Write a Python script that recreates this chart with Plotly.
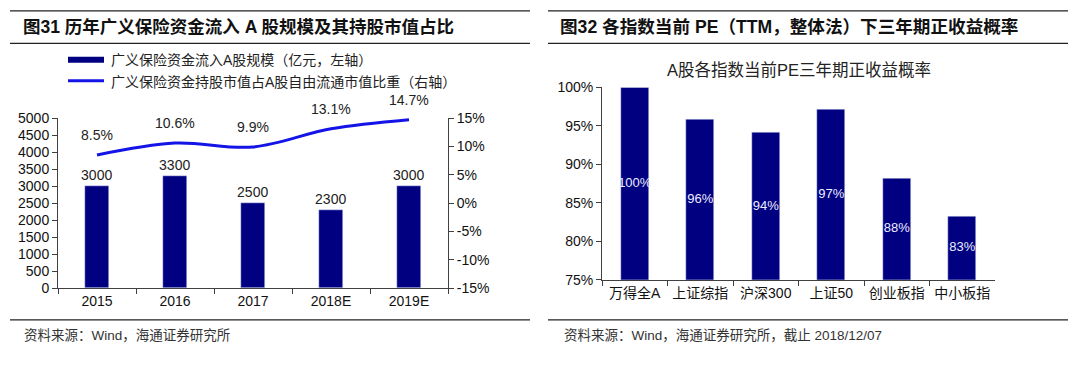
import plotly.graph_objects as go

# ---------------- data ----------------
years = ["2015", "2016", "2017", "2018E", "2019E"]
inflow = [3000, 3300, 2500, 2300, 3000]
share_pct = [8.5, 10.6, 9.9, 13.1, 14.7]
inflow_labels = ["3000", "3300", "2500", "2300", "3000"]
share_labels = ["8.5%", "10.6%", "9.9%", "13.1%", "14.7%"]
left_ticks = list(range(0, 5001, 500))
right_ticks = [-15, -10, -5, 0, 5, 10, 15]
right_ticklabels = ["-15%", "-10%", "-5%", "0%", "5%", "10%", "15%"]

indices = ["万得全A", "上证综指", "沪深300", "上证50", "创业板指", "中小板指"]
prob = [100.0, 95.8, 94.1, 97.1, 88.2, 83.2]
prob_labels = ["100%", "96%", "94%", "97%", "88%", "83%"]
prob_ticks = [75, 80, 85, 90, 95, 100]
prob_ticklabels = ["75%", "80%", "85%", "90%", "95%", "100%"]

title_left = "图31 历年广义保险资金流入 A 股规模及其持股市值占比"
title_right = "图32 各指数当前 PE（TTM，整体法）下三年期正收益概率"
chart_title_right = "A股各指数当前PE三年期正收益概率"
legend_bar = "广义保险资金流入A股规模（亿元，左轴）"
legend_line = "广义保险资金持股市值占A股自由流通市值比重（右轴）"
source_left = "资料来源：Wind，海通证券研究所"
source_right = "资料来源：Wind，海通证券研究所，截止 2018/12/07"

W, H = 1080, 370
FONT = "Liberation Sans, Arial, Noto Sans CJK SC, sans-serif"
NAVY = "#000080"
BLUE = "#1414E6"
AXIS = "#404040"


def px(x):
    return x / W


def py(y):
    return 1 - y / H


fig = go.Figure()

# left chart
fig.add_trace(go.Bar(
    x=years, y=inflow, marker_color=NAVY, width=0.3,
    text=inflow_labels, textposition="outside", cliponaxis=False,
    constraintext="none",
    textfont=dict(size=14, color="#222"),
    xaxis="x", yaxis="y", showlegend=False))
fig.add_trace(go.Scatter(
    x=years, y=share_pct, mode="lines",
    line=dict(color=BLUE, width=3, shape="spline", smoothing=1.0),
    xaxis="x", yaxis="y2", showlegend=False))

# right chart
fig.add_trace(go.Bar(
    x=indices, y=prob, marker_color=NAVY, width=0.42,
    xaxis="x3", yaxis="y3", showlegend=False))
fig.add_trace(go.Scatter(
    x=indices, y=[(v + prob_ticks[0]) / 2 for v in prob], mode="text",
    text=prob_labels, textfont=dict(size=13, color="#EDEDFF"),
    xaxis="x3", yaxis="y3", showlegend=False))

axis_common = dict(showgrid=False, zeroline=False, showline=True,
                   linecolor=AXIS, linewidth=1, ticks="outside",
                   ticklen=5, tickcolor=AXIS, tickfont=dict(size=14, color="#111", family=FONT))

fig.update_layout(
    width=W, height=H,
    margin=dict(l=0, r=0, t=0, b=0),
    paper_bgcolor="white", plot_bgcolor="white",
    font=dict(family=FONT, color="#111"),
    bargap=0,
    xaxis=dict(domain=[px(58), px(448)], anchor="y", type="category",
               range=[-0.5, len(years) - 0.5],
               tickson="boundaries", **axis_common),
    yaxis=dict(domain=[py(293), py(115)], anchor="x", range=[0, 5000],
               tickvals=left_ticks, **axis_common),
    yaxis2=dict(overlaying="y", side="right", anchor="x", range=[-15, 15],
                tickvals=right_ticks, ticktext=right_ticklabels, **axis_common),
    xaxis3=dict(domain=[px(602), px(995)], anchor="y3", type="category",
                tickson="boundaries", **axis_common),
    yaxis3=dict(domain=[py(284), py(83)], anchor="x3", range=[75, 100],
                tickvals=prob_ticks, ticktext=prob_ticklabels, **axis_common),
)

shapes = []
# header / footer rules
for y in (3, 37, 326):
    shapes.append(dict(type="line", xref="paper", yref="paper",
                       x0=px(10), x1=px(530), y0=py(y), y1=py(y),
                       line=dict(color="#222", width=1.2)))
    shapes.append(dict(type="line", xref="paper", yref="paper",
                       x0=px(548), x1=px(1068), y0=py(y), y1=py(y),
                       line=dict(color="#222", width=1.2)))
# legend swatches
shapes.append(dict(type="line", xref="paper", yref="paper",
                   x0=px(68), x1=px(104), y0=py(54), y1=py(54),
                   line=dict(color=NAVY, width=6)))
shapes.append(dict(type="line", xref="paper", yref="paper",
                   x0=px(68), x1=px(104), y0=py(76), y1=py(76),
                   line=dict(color=BLUE, width=3)))

annotations = [
    dict(text="<b>" + title_left + "</b>", x=px(21), y=py(20), xref="paper", yref="paper",
         xanchor="left", yanchor="middle", showarrow=False, font=dict(size=17.5, color="#111")),
    dict(text="<b>" + title_right + "</b>", x=px(558), y=py(20), xref="paper", yref="paper",
         xanchor="left", yanchor="middle", showarrow=False, font=dict(size=17.6, color="#111")),
    dict(text=legend_bar, x=px(109), y=py(54), xref="paper", yref="paper",
         xanchor="left", yanchor="middle", showarrow=False, font=dict(size=14, color="#222")),
    dict(text=legend_line, x=px(109), y=py(77), xref="paper", yref="paper",
         xanchor="left", yanchor="middle", showarrow=False, font=dict(size=14, color="#222")),
    dict(text=chart_title_right, x=(px(602) + px(995)) / 2, y=py(65), xref="paper", yref="paper",
         xanchor="center", yanchor="middle", showarrow=False, font=dict(size=16.5, color="#222")),
    dict(text=source_left, x=px(22), y=py(342), xref="paper", yref="paper",
         xanchor="left", yanchor="middle", showarrow=False, font=dict(size=13.5, color="#333")),
    dict(text=source_right, x=px(562), y=py(342), xref="paper", yref="paper",
         xanchor="left", yanchor="middle", showarrow=False, font=dict(size=13.5, color="#333")),
]
# percentage labels above the line points (category index positions)
for i, (yv, lab) in enumerate(zip(share_pct, share_labels)):
    annotations.append(dict(text=lab, x=i, y=yv, xref="x", yref="y2",
                            xanchor="center", yanchor="bottom", yshift=10,
                            showarrow=False, font=dict(size=14, color="#222")))

fig.update_layout(shapes=shapes, annotations=annotations)
fig.write_html("out.html", config={"displayModeBar": False},
               post_script="document.body.style.margin='0';")
